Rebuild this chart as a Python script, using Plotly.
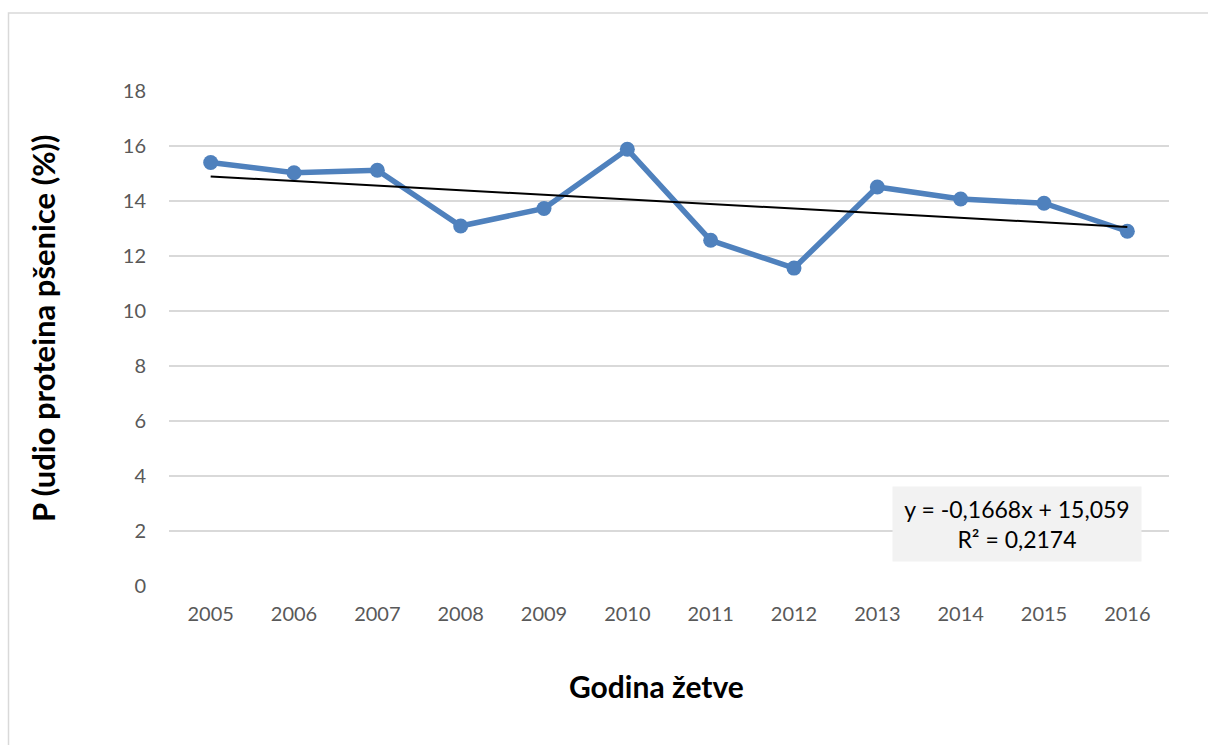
import plotly.graph_objects as go

years = ["2005", "2006", "2007", "2008", "2009", "2010",
         "2011", "2012", "2013", "2014", "2015", "2016"]
protein = [15.40, 15.03, 15.12, 13.09, 13.73, 15.88,
           12.57, 11.56, 14.51, 14.07, 13.92, 12.90]
trend_slope = -0.1668
trend_intercept = 15.059
r_squared = 0.2174
y_ticks = [0, 2, 4, 6, 8, 10, 12, 14, 16, 18]

trend = [trend_intercept + trend_slope * (i + 1) for i in range(len(years))]

W, H = 1208, 745
ml, mr, mt, mb = 169, 39, 91, 159
pw, ph = W - ml - mr, H - mt - mb

def px(x):
    return (x - ml) / pw

def py(y):
    return (H - mb - y) / ph

blue = "#4f81bd"
font_family = "Lato, 'Open Sans', sans-serif"

fig = go.Figure()
fig.add_trace(go.Scatter(
    x=years, y=protein, mode="lines+markers",
    line=dict(color=blue, width=5.5),
    marker=dict(color=blue, size=15),
    showlegend=False, hoverinfo="x+y"))
fig.add_trace(go.Scatter(
    x=years, y=trend, mode="lines",
    line=dict(color="black", width=2),
    showlegend=False, hoverinfo="skip"))

eq = "y = {}x + {}<br>R² = {}".format(
    f"{trend_slope:.4f}".replace(".", ","),
    f"{trend_intercept:.3f}".replace(".", ","),
    f"{r_squared:.4f}".replace(".", ","))

fig.add_annotation(
    x=px(1017), y=py(523.5), xref="paper", yref="paper",
    text=eq, showarrow=False, align="center",
    font=dict(family=font_family, size=23, color="black"),
    bgcolor="#f2f2f2", width=246, height=72,
    xanchor="center", yanchor="middle")

fig.add_annotation(
    x=px(656), y=py(686), xref="paper", yref="paper",
    text="<b>Godina žetve</b>", showarrow=False,
    font=dict(family=font_family, size=30, color="black"),
    xanchor="center", yanchor="middle")

fig.add_annotation(
    x=px(43), y=py(328), xref="paper", yref="paper",
    text="<b>P (udio proteina pšenice (%))</b>", showarrow=False,
    textangle=-90,
    font=dict(family=font_family, size=31, color="black"),
    xanchor="center", yanchor="middle")

fig.add_shape(type="rect", xref="paper", yref="paper",
              x0=px(8.5), x1=px(1240), y0=py(13), y1=py(800),
              line=dict(color="#d9d9d9", width=1.5), layer="below")

fig.update_layout(
    width=W, height=H,
    margin=dict(l=ml, r=mr, t=mt, b=mb),
    paper_bgcolor="white", plot_bgcolor="white",
    font=dict(family=font_family, color="#595959", size=20),
    xaxis=dict(
        type="category", range=[-0.5, 11.5],
        showgrid=False, zeroline=False, showline=False,
        ticks="", ticklen=0, ticklabelstandoff=14,
        tickfont=dict(size=20, color="#595959")),
    yaxis=dict(
        range=[0, 18], tickvals=y_ticks,
        showgrid=True, gridcolor="#d9d9d9", gridwidth=1.5,
        zeroline=False, showline=False, ticks="", ticklabelstandoff=22,
        tickfont=dict(size=20, color="#595959")),
)

fig.write_html("out.html",
               config={"displayModeBar": False},
               post_script="document.body.style.margin='0px';document.body.style.overflow='hidden';")
